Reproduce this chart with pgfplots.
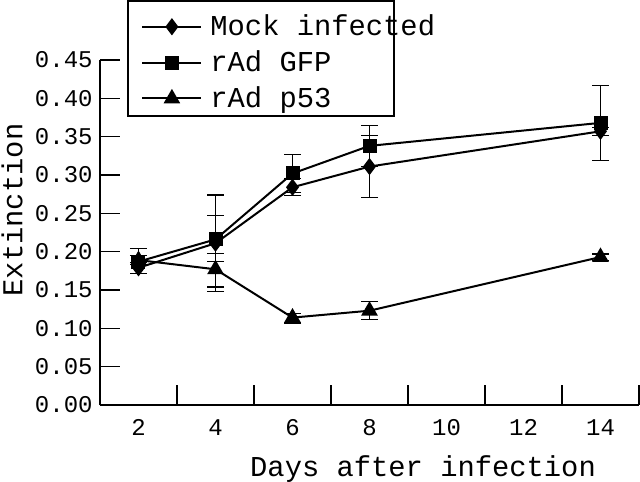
\documentclass[border=0pt]{standalone}
\usepackage{pgfplots}
\pgfplotsset{compat=1.18}
\usepackage{fontspec}
\setmainfont{Liberation Mono}

\pgfplotstableread{
x y ep em
2 0.179 0.007 0.007
4 0.211 0.036 0.024
6 0.284 0.011 0.011
8 0.311 0.040 0.040
14 0.357 0.005 0.005
}\mock
\pgfplotstableread{
x y ep em
2 0.187 0.017 0.015
4 0.216 0.058 0.068
6 0.302 0.025 0.025
8 0.338 0.027 0.027
14 0.368 0.049 0.049
}\gfp
\pgfplotstableread{
x y ep em
2 0.189 0.006 0.006
4 0.177 0.021 0.023
6 0.114 0.0055 0.007
8 0.123 0.012 0.011
14 0.193 0.004 0.004
}\pff

\begin{document}
\begin{tikzpicture}
\begin{axis}[
  at={(0,0)}, anchor=south west,
  scale only axis, width=269.5pt, height=172.5pt,
  xmin=1, xmax=15, ymin=0, ymax=0.45,
  axis x line=bottom, axis y line=left,
  axis line style={-, line width=0.65pt},
  tick align=inside,
  major tick length=10pt,
  tick style={line width=0.65pt, black},
  xtick={1,3,...,15}, x tick label as interval,
  xticklabels={2,4,6,8,10,12,14},
  ytick={0,0.05,0.10,0.15,0.20,0.25,0.30,0.35,0.40,0.45},
  /pgf/number format/assume math mode=true,
  yticklabel style={/pgf/number format/fixed, /pgf/number format/fixed zerofill, /pgf/number format/precision=2,
    anchor=east, inner sep=0pt, xshift=-3.5pt},
  xticklabel style={anchor=base, inner sep=0pt, yshift=-15pt},
  tick label style={font=\fontsize{12}{14}\selectfont},
  xlabel={Days after infection},
  ylabel={Extinction},
  label style={font=\fontsize{14.4}{16}\selectfont},
  xlabel style={at={(axis description cs:0.5993,-0.2075)}, anchor=base},
  ylabel style={at={(axis description cs:-0.1440,0.565)}, anchor=base},
  legend style={at={(axis description cs:0.0761,1.1437)}, anchor=north west,
    draw=none, fill=none, inner sep=0pt, row sep=2pt,
    font=\fontsize{14.4}{16}\selectfont,
    /tikz/every odd column/.append style={column sep=2pt}},
  legend cell align=left,
  legend image code/.code={\draw[mark repeat=2,mark phase=2,#1] plot coordinates {(0pt,0pt) (14.75pt,0pt) (29.5pt,0pt)};},
  every axis plot/.append style={black, line width=1pt, mark options={solid, fill=black}},
  error bars/error bar style={line width=0.6pt},
  error bars/error mark options={rotate=90, mark size=4.25pt, line width=0.6pt},
]
\addplot[mark=diamond*, mark size=3.5pt, error bars/.cd, y dir=both, y explicit]
  table[x=x, y=y, y error plus=ep, y error minus=em] {\mock};
\addlegendentry{Mock infected}
\addplot[mark=square*, mark size=3pt, error bars/.cd, y dir=both, y explicit]
  table[x=x, y=y, y error plus=ep, y error minus=em] {\gfp};
\addlegendentry{rAd GFP}
\addplot[mark=triangle*, mark size=3.8pt, error bars/.cd, y dir=both, y explicit]
  table[x=x, y=y, y error plus=ep, y error minus=em] {\pff};
\addlegendentry{rAd p53}
\end{axis}
\draw[line width=0.65pt] (14pt,144.5pt) rectangle (147pt,202pt);
\pgfresetboundingbox
\path[use as bounding box] (-50pt,-38pt) rectangle (270pt,202.5pt);
\end{tikzpicture}
\end{document}
